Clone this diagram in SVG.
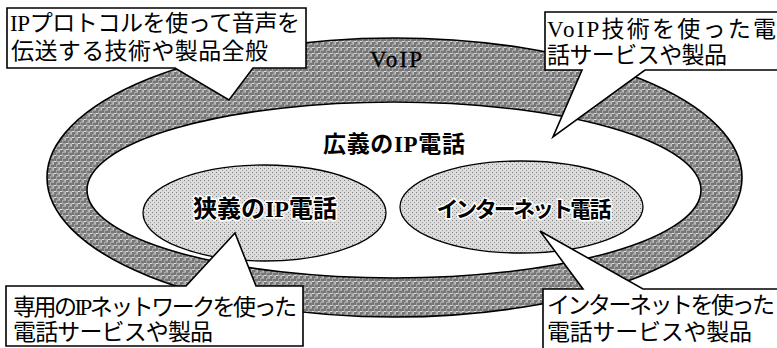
<svg xmlns="http://www.w3.org/2000/svg" width="777" height="348" viewBox="0 0 777 348">
  <style>
    .band { fill: url(#weave); stroke: #000; stroke-width: 1.6; }
    .hole { fill: #fff; stroke: #000; stroke-width: 1.6; }
    .inner { fill: url(#dots); stroke: #000; stroke-width: 1.3; }
    .callout { fill: #fff; stroke: #000; stroke-width: 1.6; stroke-linejoin: miter; }
    .note { font-family: "Liberation Serif", "Noto Sans CJK JP", serif; font-size: 23px; fill: #000; }
    .label { font-family: "Liberation Serif", "Noto Sans CJK JP", serif; font-weight: bold; fill: #000; text-anchor: middle; }
    .plain { font-family: "Liberation Serif", serif; font-weight: normal; fill: #000; stroke: #000; stroke-width: 0.4; text-anchor: middle; }
    .halo { stroke: #fff; stroke-width: 3; paint-order: stroke; stroke-linejoin: round; }
  </style>
  <defs>
    <pattern id="weave" width="6" height="6" patternUnits="userSpaceOnUse">
      <rect width="6" height="6" fill="#a4a4a4"/>
      <path d="M0,1 H3 M3,4 H6 M1,2 V5 M4,-1 V2" stroke="#4a4a4a" stroke-width="1" fill="none"/>
      <path d="M0,5.5 H2 M3.5,1 H6" stroke="#e0e0e0" stroke-width="1" fill="none"/>
    </pattern>
    <pattern id="dots" width="4" height="4" patternUnits="userSpaceOnUse">
      <rect width="4" height="4" fill="#dcdcdc"/>
      <rect x="0" y="0" width="1" height="1" fill="#7a7a7a"/>
      <rect x="2" y="2" width="1" height="1" fill="#9a9a9a"/>
    </pattern>
  </defs>

  <g id="voip">
    <ellipse class="band" cx="394.5" cy="177.5" rx="347.5" ry="139.5"/>
    <ellipse class="hole" cx="394" cy="190" rx="307" ry="88"/>
    <text class="plain" x="396" y="67" font-size="23" textLength="52">VoIP</text>
  </g>

  <g id="broad-ip-phone">
    <text class="label" x="394" y="152" font-size="23" textLength="142">広義のIP電話</text>
  </g>

  <g id="narrow-ip-phone">
    <ellipse class="inner" cx="264.5" cy="213" rx="121.5" ry="48"/>
    <text class="label halo" x="265" y="217" font-size="24" textLength="144">狭義のIP電話</text>
  </g>

  <g id="internet-phone">
    <ellipse class="inner" cx="521.5" cy="207" rx="121.5" ry="46"/>
    <text class="label halo" x="524" y="217" font-size="22" textLength="175">インターネット電話</text>
  </g>

  <g id="note-voip-general">
    <path class="callout" d="M7,8 H306 V68 H253 L229,100 L175,68 H7 Z"/>
    <text class="note" x="10" y="31" textLength="290">IPプロトコルを使って音声を</text>
    <text class="note" x="11" y="59" textLength="257">伝送する技術や製品全般</text>
  </g>

  <g id="note-voip-services">
    <path class="callout" d="M545,12 H790 V70 H645 L553,137 L582,70 H545 Z"/>
    <text class="note" x="547" y="37" textLength="229">VoIP技術を使った電</text>
    <text class="note" x="547" y="63" textLength="180">話サービスや製品</text>
  </g>

  <g id="note-narrow">
    <path class="callout" d="M6,286 H186 L235,233 L256,286 H303 V346 H6 Z"/>
    <text class="note" x="13" y="315" textLength="284">専用のIPネットワークを使った</text>
    <text class="note" x="13" y="340" textLength="200">電話サービスや製品</text>
  </g>

  <g id="note-internet">
    <path class="callout" d="M543,289 H583 L540,231 L643,289 H790 V360 H543 Z"/>
    <text class="note" x="547" y="313" font-size="22" textLength="228">インターネットを使った</text>
    <text class="note" x="547" y="340" textLength="205">電話サービスや製品</text>
  </g>
</svg>
